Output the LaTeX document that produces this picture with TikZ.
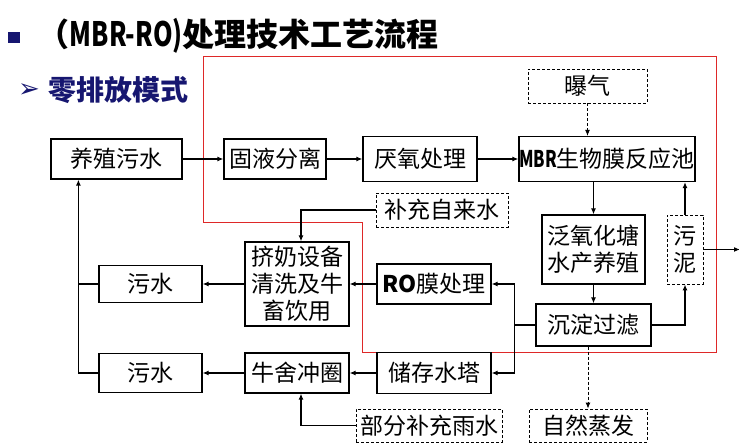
\documentclass[tikz,border=0pt]{standalone}
\usepackage{fontspec}
\usepackage{graphicx}
\setmainfont{Noto Sans CJK SC}
\newfontfamily\symfont{DejaVu Sans}
\usepackage{tikz}
\usetikzlibrary{positioning, calc, arrows.meta}
\definecolor{navy}{RGB}{22,22,112}
\definecolor{zeroline}{RGB}{222,40,40}

\begin{document}
\begin{tikzpicture}[x=1pt,y=-1pt,line width=1.2pt,
        box/.style={draw, rectangle, inner sep=0pt, align=center, font=\fontsize{23}{27}\selectfont},
        dbox/.style={box, line width=0.9pt, dash pattern=on 3pt off 2pt},
        arr/.style={-{Latex[length=6pt,width=5pt]}},
        darr/.style={arr, line width=0.9pt, dash pattern=on 3pt off 2pt}]
            \useasboundingbox (0,0) rectangle (739,446);

            % Title
            \fill[navy] (8,32) rectangle (20,43);
            \node[anchor=west, font=\bfseries\fontsize{32}{36}\selectfont] (title) at (34,36)
                {（\scalebox{0.78}[1.05]{MBR-RO)}处理技术工艺流程};
            \node[text=navy, font=\symfont\fontsize{26}{28}\selectfont] (bullet) at (29,91) {➢};
            \node[anchor=west, text=navy, font=\bfseries\fontsize{28}{32}\selectfont] (sub) at (45,90) {零排放模式};

            % Zero discharge frame
            \draw[draw=zeroline, line width=1.3pt] (203.5,56.5) -- (716.5,56.5) -- (716.5,352.5) -- (362.5,352.5)
                -- (362.5,222.5) -- (203.5,222.5) -- cycle;

            % Treatment line
            \node[box, minimum width=131pt, minimum height=40pt] (src) at (116.5,159) {养殖污水};
            \node[box, minimum width=102pt, minimum height=40pt] (sep) at (275,159) {固液分离};
            \node[box, minimum width=114pt, minimum height=45pt] (anaer) at (420,159) {厌氧处理};
            \node[box, minimum width=176pt, minimum height=45pt] (mbr) at (607,159)
                {\textbf{\scalebox{0.72}[1]{MBR}}生物膜反应池};
            \node[dbox, minimum width=119pt, minimum height=34pt] (air) at (587.5,86) {曝气};

            % Pond and settling
            \node[box, minimum width=103pt, minimum height=69pt] (pond) at (593.5,249.5) {泛氧化塘\\水产养殖};
            \node[dbox, minimum width=36pt, minimum height=69pt] (sludge) at (685,249.5) {污\\泥};
            \node[box, minimum width=115pt, minimum height=42pt] (settle) at (593.5,325) {沉淀过滤};
            \node[dbox, minimum width=118pt, minimum height=33pt] (evap) at (588,425.5) {自然蒸发};

            % Reuse side
            \node[dbox, minimum width=132pt, minimum height=34pt] (tap) at (442,210) {补充自来水};
            \node[box, minimum width=114pt, minimum height=40pt] (ro) at (434,284) {\textbf{RO}膜处理};
            \node[box, minimum width=114pt, minimum height=41pt] (tower) at (434,373) {储存水塔};
            \node[box, minimum width=104pt, minimum height=84pt] (milk) at (297,284) {挤奶设备\\清洗及牛\\畜饮用};
            \node[box, minimum width=104pt, minimum height=40pt] (flush) at (297,373) {牛舍冲圈};
            \node[box, minimum width=103pt, minimum height=37pt] (wasteA) at (150.5,284) {污水};
            \node[box, minimum width=103pt, minimum height=39pt] (wasteB) at (150.5,373) {污水};
            \node[dbox, minimum width=146pt, minimum height=33pt] (rain) at (429,425.5) {部分补充雨水};

            % Helper points
            \coordinate (split) at ($(settle.west)+(-21,0)$);
            \coordinate (ret) at ($(src.south west)+(28,0)$);
            \coordinate (out) at (740,249.5);

            % Main flow
            \draw[arr] (src) -- (sep);
            \draw[arr] (sep) -- (anaer);
            \draw[arr] (anaer) -- (mbr);
            \draw[darr] (air.south) -- (air.south |- mbr.north);
            \draw[arr] (mbr.south -| pond.north) -- (pond.north);
            \draw[arr] (pond) -- (settle);

            % Sludge loop
            \draw[arr] (settle.east) -| (sludge.south);
            \draw[arr] (sludge.north) -- (sludge.north |- mbr.south);
            \draw[arr] (sludge.east) -- (out);
            \draw[darr] (settle.south -| evap.north) -- (evap.north);

            % Water reuse
            \draw (settle.west) -- (split);
            \draw[arr] (split) |- (ro.east);
            \draw[arr] (split) |- (tower.east);
            \draw[arr] (ro) -- (milk);
            \draw[arr] (tower) -- (flush);
            \draw[arr] (tap.west) -| ($(milk.north)+(4,0)$);
            \draw[arr] (rain.west) -| ($(flush.south)+(4,0)$);

            % Back to source
            \draw[arr] (milk) -- (wasteA);
            \draw[arr] (flush) -- (wasteB);
            \draw (wasteA.west) -- (wasteA.west -| ret);
            \draw[arr] (wasteB.west) -| (ret);
        \end{tikzpicture}
\end{document}
